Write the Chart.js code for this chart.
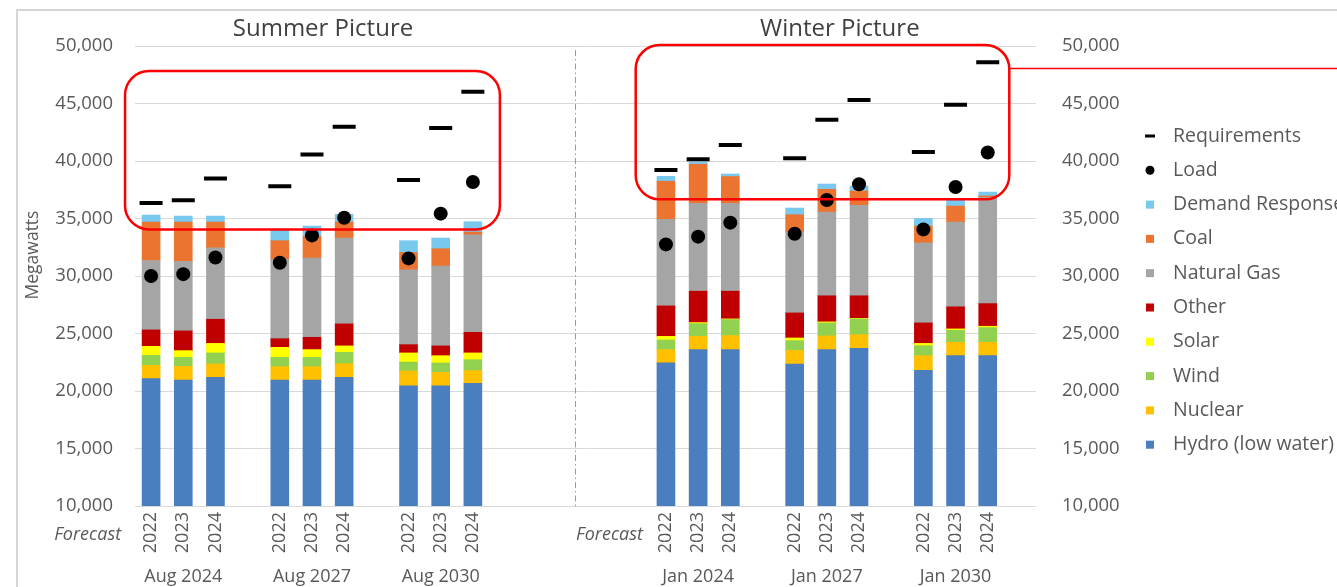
<!DOCTYPE html>
<html>
<head>
<meta charset="utf-8">
<script src="https://cdn.jsdelivr.net/npm/chart.js@4.4.1/dist/chart.umd.min.js"></script>
<style>
  html, body { margin: 0; padding: 0; background: #ffffff; overflow: hidden; }
  canvas { display: block; }
</style>
</head>
<body>
<canvas id="c" width="1337" height="587"></canvas>
<script>
// ---- Data ----
const periods = ['Aug 2024', 'Aug 2027', 'Aug 2030', 'Jan 2024', 'Jan 2027', 'Jan 2030'];
const forecastYears = ['2022', '2023', '2024'];
const panelTitles = ['Summer Picture', 'Winter Picture'];
const yTicks = [10000, 15000, 20000, 25000, 30000, 35000, 40000, 45000, 50000];

// values in MW, ordered period by period, forecast 2022/2023/2024 inside each period
const hydro   = [21070, 20950, 21180, 20955, 20955, 21180, 20460, 20460, 20660, 22440, 23600, 23600, 22350, 23600, 23710, 21790, 23070, 23070];
const nuclear = [1160, 1190, 1170, 1155, 1155, 1195, 1280, 1160, 1105, 1160, 1150, 1220, 1180, 1190, 1190, 1280, 1160, 1160];
const wind    = [870, 780, 960, 810, 810, 985, 780, 820, 955, 840, 1110, 1390, 850, 1130, 1370, 870, 1050, 1280];
const solar   = [780, 590, 830, 880, 680, 560, 790, 630, 590, 310, 90, 60, 230, 90, 50, 200, 120, 120];
const other   = [1430, 1715, 2100, 750, 1070, 1915, 720, 850, 1790, 2650, 2730, 2410, 2180, 2270, 1960, 1780, 1920, 1970];
const naturalGas = [6040, 6040, 6220, 6890, 6880, 7465, 6510, 6940, 8490, 7520, 7640, 7640, 7030, 7280, 7870, 6970, 7370, 9240];
const coal    = [3340, 3425, 2230, 1630, 1920, 1390, 1510, 1510, 230, 3320, 3400, 2330, 1510, 1980, 1240, 1450, 1390, 120];
const demandResponse = [610, 520, 520, 900, 870, 670, 1020, 930, 900, 430, 200, 220, 580, 460, 440, 670, 650, 340];
const requirements = [36350, 36580, 38470, 37800, 40560, 42970, 38350, 42860, 46020, 39220, 40150, 41400, 40240, 43580, 45300, 40790, 44890, 48580];
const load = [30000, 30160, 31610, 31150, 33530, 35070, 31530, 35420, 38180, 32750, 33420, 34640, 33680, 36610, 37980, 34050, 37740, 40740];

// ---- Slot layout: 3 bars per period, one blank slot between periods, a wider gap between panels ----
const NSLOTS = 28;
function slotOf(p, f) { return p < 3 ? p * 4 + f : 16 + (p - 3) * 4 + f; }
const labels = new Array(NSLOTS).fill('');
periods.forEach((p, pi) => forecastYears.forEach((y, fi) => { labels[slotOf(pi, fi)] = y; }));
function toSlots(arr) {
  const out = new Array(NSLOTS).fill(null);
  periods.forEach((p, pi) => forecastYears.forEach((y, fi) => { out[slotOf(pi, fi)] = arr[pi * 3 + fi]; }));
  return out;
}

const FONT = '"Open Sans", "Noto Sans", sans-serif';
const TXT = '#595959';

const barSeries = [
  { label: 'Hydro (low water)', data: hydro, color: '#4A7EBF' },
  { label: 'Nuclear', data: nuclear, color: '#FFC000' },
  { label: 'Wind', data: wind, color: '#92D050' },
  { label: 'Solar', data: solar, color: '#FFFF00' },
  { label: 'Other', data: other, color: '#C00000' },
  { label: 'Natural Gas', data: naturalGas, color: '#A5A5A5' },
  { label: 'Coal', data: coal, color: '#EB7530' },
  { label: 'Demand Response', data: demandResponse, color: '#79C8EE' }
];

const datasets = [
  { type: 'line', label: 'Requirements', data: toSlots(requirements), stack: 'req', showLine: false,
    pointStyle: 'line', pointRadius: 11.5, pointBorderWidth: 4, borderColor: '#000', backgroundColor: '#000', yAxisID: 'y', order: 0 },
  { type: 'line', label: 'Load', data: toSlots(load), stack: 'load', showLine: false,
    pointStyle: 'circle', pointRadius: 7, pointBorderWidth: 0, borderColor: '#000', backgroundColor: '#000', yAxisID: 'y', order: 0 }
].concat(barSeries.map(s => ({
  type: 'bar', label: s.label, data: toSlots(s.data), backgroundColor: s.color, borderWidth: 0,
  stack: 'gen', barThickness: 18, yAxisID: 'y', order: 1
})));

const fmt = v => Number(v).toLocaleString('en-US');

const decor = {
  id: 'decor',
  beforeDraw(chart) {
    const ctx = chart.ctx;
    ctx.save();
    ctx.fillStyle = '#fff';
    ctx.fillRect(0, 0, chart.width, chart.height);
    // outer frame of the figure
    ctx.strokeStyle = '#d6d6d6';
    ctx.lineWidth = 2;
    ctx.beginPath();
    ctx.moveTo(17, chart.height);
    ctx.lineTo(17, 10);
    ctx.lineTo(chart.width, 10);
    ctx.stroke();
    ctx.restore();
  },
  beforeDatasetsDraw(chart) {
    const ctx = chart.ctx, x = chart.scales.x, a = chart.chartArea;
    ctx.save();
    // dashed separator between the two panels
    const sx = x.getPixelForValue(13) + 0.16 * (x.getPixelForValue(1) - x.getPixelForValue(0));
    ctx.strokeStyle = '#9a9a9a';
    ctx.lineWidth = 1;
    ctx.setLineDash([6, 3, 1.5, 3]);
    ctx.beginPath();
    ctx.moveTo(Math.round(sx) + 0.5, a.top + 4);
    ctx.lineTo(Math.round(sx) + 0.5, a.bottom);
    ctx.stroke();
    ctx.restore();
  },
  afterDraw(chart) {
    const ctx = chart.ctx, x = chart.scales.x, y = chart.scales.y;
    const slotW = x.getPixelForValue(1) - x.getPixelForValue(0);
    ctx.save();
    // panel titles
    ctx.fillStyle = '#404040';
    ctx.font = '24px ' + FONT;
    ctx.textAlign = 'center';
    ctx.textBaseline = 'middle';
    ctx.fillText(panelTitles[0], x.getPixelForValue(slotOf(1, 1)) + 11, 29);
    ctx.fillText(panelTitles[1], x.getPixelForValue(slotOf(4, 1)) + 13, 29);

    // group (period) labels
    ctx.fillStyle = TXT;
    ctx.font = '18px ' + FONT;
    periods.forEach((p, pi) => {
      ctx.fillText(p, x.getPixelForValue(slotOf(pi, 1)), 577);
    });
    // Forecast labels
    ctx.font = 'italic 18px ' + FONT;
    ctx.textAlign = 'right';
    ctx.fillText('Forecast', x.getPixelForValue(slotOf(0, 0)) - 30, 535);
    ctx.fillText('Forecast', x.getPixelForValue(slotOf(3, 0)) - 23, 535);

    // y axis title
    ctx.save();
    ctx.translate(33, 255);
    ctx.rotate(-Math.PI / 2);
    ctx.textAlign = 'center';
    ctx.font = '17.5px ' + FONT;
    ctx.fillText('Megawatts', 0, 0);
    ctx.restore();

    // red highlight boxes
    function roundRect(x0, y0, x1, y1, r) {
      ctx.beginPath();
      ctx.moveTo(x0 + r, y0);
      ctx.lineTo(x1 - r, y0);
      ctx.arcTo(x1, y0, x1, y0 + r, r);
      ctx.lineTo(x1, y1 - r);
      ctx.arcTo(x1, y1, x1 - r, y1, r);
      ctx.lineTo(x0 + r, y1);
      ctx.arcTo(x0, y1, x0, y1 - r, r);
      ctx.lineTo(x0, y0 + r);
      ctx.arcTo(x0, y0, x0 + r, y0, r);
      ctx.closePath();
      ctx.stroke();
    }
    const sp = s => x.getPixelForValue(0) + s * slotW;
    ctx.strokeStyle = '#FF0000';
    ctx.lineWidth = 2.5;
    roundRect(sp(-0.81), y.getPixelForValue(47820), sp(10.84), y.getPixelForValue(34050), 24);
    roundRect(sp(15.06), y.getPixelForValue(50090), sp(26.67), y.getPixelForValue(36670), 24);
    ctx.lineWidth = 1.5;
    ctx.beginPath();
    const ly = Math.round(y.getPixelForValue(48090)) + 0.5;
    ctx.moveTo(sp(26.67), ly);
    ctx.lineTo(chart.width, ly);
    ctx.stroke();

    // legend
    const items = [
      { label: 'Requirements', kind: 'dash' },
      { label: 'Load', kind: 'dot' }
    ].concat(barSeries.slice().reverse().map(s => ({ label: s.label, kind: 'box', color: s.color })));
    ctx.font = '19.5px ' + FONT;
    ctx.textAlign = 'left';
    ctx.textBaseline = 'middle';
    items.forEach((it, i) => {
      const cy = 136 + i * 34.3;
      const mx = 1150;
      if (it.kind === 'dash') {
        ctx.fillStyle = '#000';
        ctx.fillRect(mx - 5, cy - 1.5, 10, 3);
      } else if (it.kind === 'dot') {
        ctx.fillStyle = '#000';
        ctx.beginPath(); ctx.arc(mx, cy, 4.5, 0, Math.PI * 2); ctx.fill();
      } else {
        ctx.fillStyle = it.color;
        ctx.fillRect(mx - 4, cy - 4, 8, 8);
      }
      ctx.fillStyle = TXT;
      ctx.fillText(it.label, 1173, cy);
    });
    ctx.restore();
  }
};

new Chart(document.getElementById('c'), {
  type: 'bar',
  data: { labels: labels, datasets: datasets },
  options: {
    responsive: false,
    animation: false,
    devicePixelRatio: 1,
    layout: { padding: { top: 46, left: 0, right: 0, bottom: 0 } },
    plugins: { legend: { display: false }, tooltip: { enabled: false }, title: { display: false } },
    scales: {
      x: {
        type: 'category', offset: true, stacked: true,
        grid: { display: false, drawTicks: false }, border: { display: false },
        ticks: { autoSkip: false, minRotation: 90, maxRotation: 90, padding: 6, color: TXT, font: { family: FONT, size: 18 } },
        afterFit(s) { s.height = 81; }
      },
      y: {
        position: 'left', stacked: true, min: 10000, max: 50000,
        afterBuildTicks(s) { s.ticks = yTicks.map(v => ({ value: v })); },
        ticks: { padding: 22, color: TXT, font: { family: FONT, size: 18.5 }, callback: v => fmt(v) },
        grid: { color: '#d9d9d9', lineWidth: 1, drawTicks: false }, border: { display: false },
        afterFit(s) { s.width = 135; }
      },
      y2: {
        position: 'right', min: 10000, max: 50000,
        afterBuildTicks(s) { s.ticks = yTicks.map(v => ({ value: v })); },
        ticks: { padding: 26, color: TXT, font: { family: FONT, size: 18.5 }, callback: v => fmt(v) },
        grid: { display: false, drawTicks: false }, border: { display: false },
        afterFit(s) { s.width = 301; }
      }
    }
  },
  plugins: [decor]
});
</script>
</body>
</html>
